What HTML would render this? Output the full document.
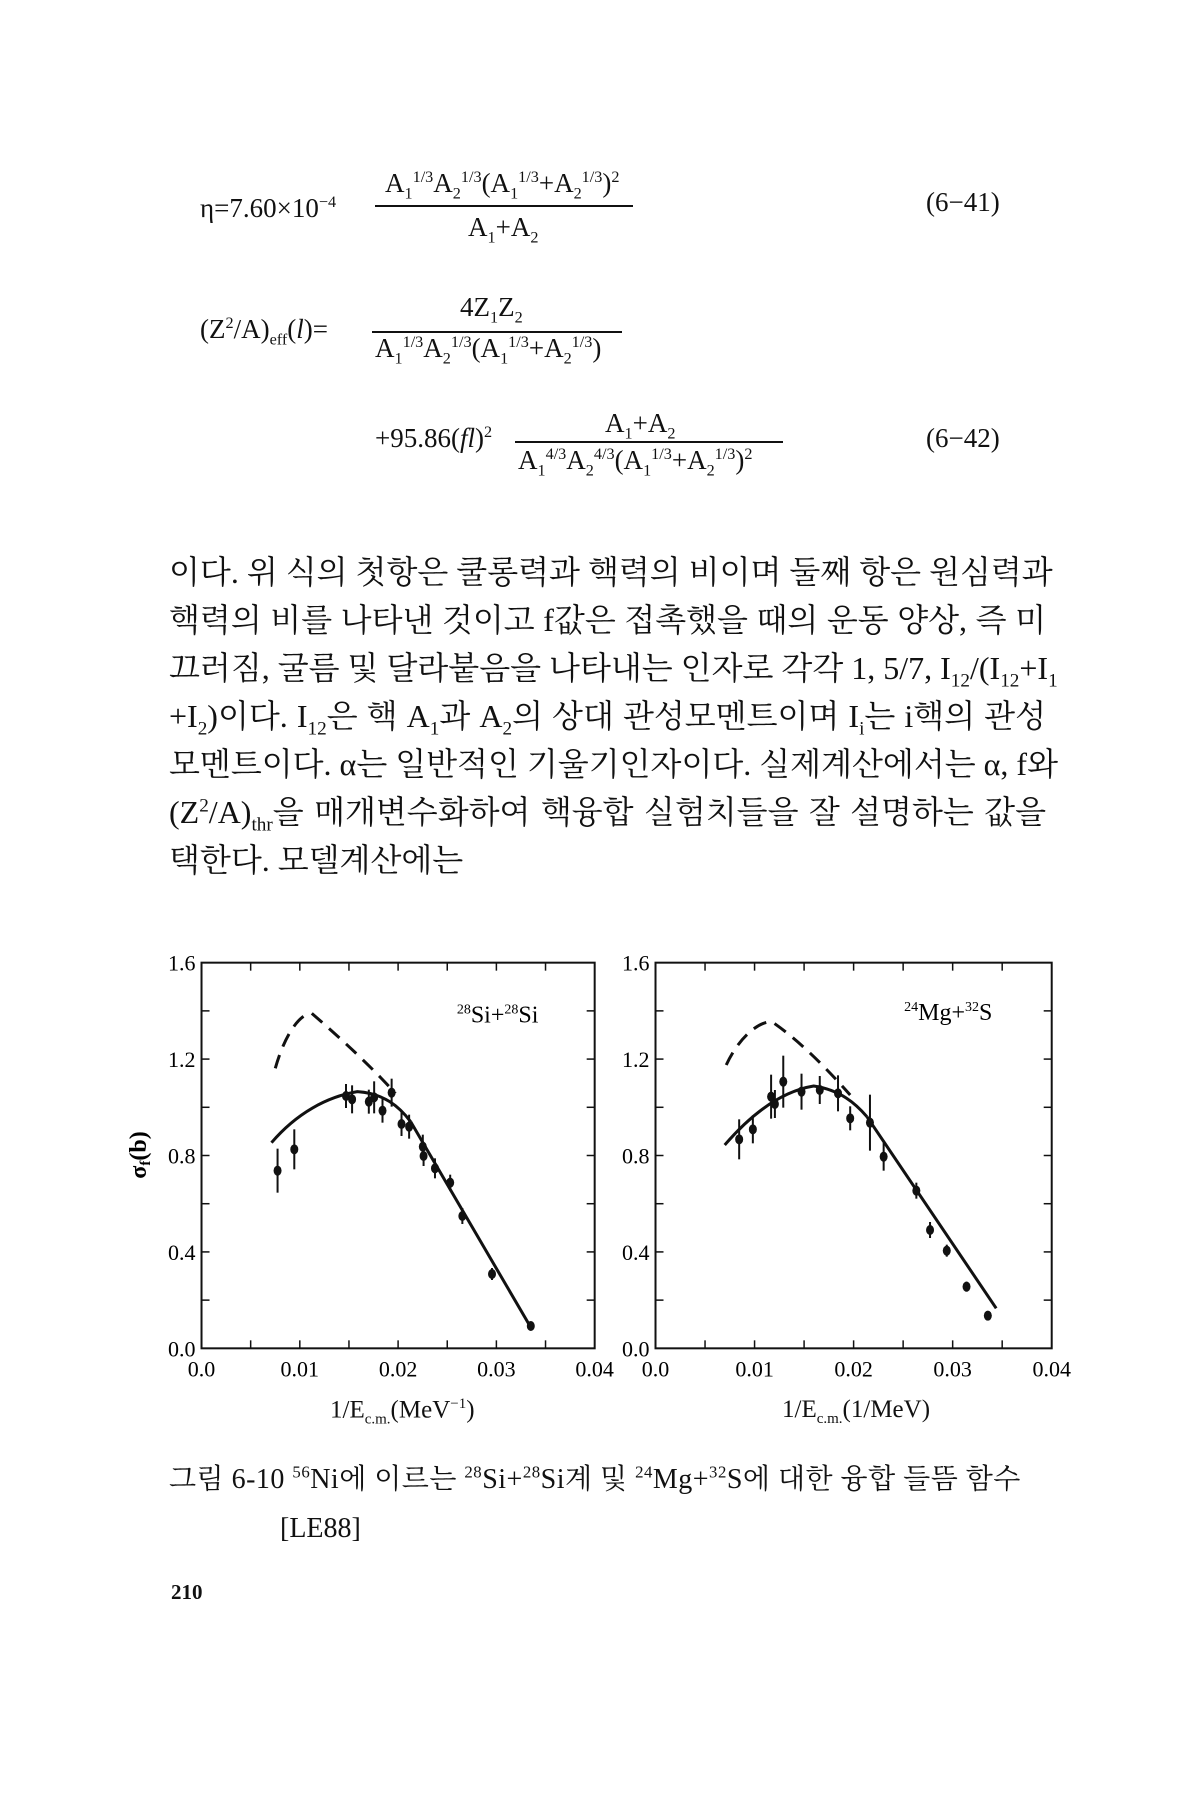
<!DOCTYPE html>
<html><head><meta charset="utf-8"><style>
body{margin:0;background:#fff;width:1200px;height:1800px;overflow:hidden;position:relative;font-family:"Liberation Serif","Noto Serif CJK SC","Noto Sans CJK KR",serif;color:#111}
.a{position:absolute;white-space:nowrap}
.p{position:absolute;left:169px;width:877px;font-size:32px;text-align:justify;text-align-last:justify;white-space:nowrap;font-family:"Liberation Serif","Noto Serif CJK SC","NanumGothic",serif}
sup,sub{font-size:60%}
.eq{font-size:27px}
</style></head><body>
<div class="a eq" style="left:200px;top:193px">η=7.60×10<sup>−4</sup></div>
<div class="a eq" style="left:385px;top:168px">A<sub>1</sub><sup>1/3</sup>A<sub>2</sub><sup>1/3</sup>(A<sub>1</sub><sup>1/3</sup>+A<sub>2</sub><sup>1/3</sup>)<sup>2</sup></div>
<div class="a" style="left:375px;top:205px;width:258px;border-top:2px solid #111"></div>
<div class="a eq" style="left:468px;top:212px">A<sub>1</sub>+A<sub>2</sub></div>
<div class="a eq" style="left:926px;top:187px">(6−41)</div>

<div class="a eq" style="left:200px;top:314px">(Z<sup>2</sup>/A)<sub>eff</sub>(<i>l</i>)=</div>
<div class="a eq" style="left:460px;top:292px">4Z<sub>1</sub>Z<sub>2</sub></div>
<div class="a" style="left:372px;top:331px;width:250px;border-top:2px solid #111"></div>
<div class="a eq" style="left:375px;top:333px">A<sub>1</sub><sup>1/3</sup>A<sub>2</sub><sup>1/3</sup>(A<sub>1</sub><sup>1/3</sup>+A<sub>2</sub><sup>1/3</sup>)</div>

<div class="a eq" style="left:375px;top:423px">+95.86(<i>fl</i>)<sup>2</sup></div>
<div class="a eq" style="left:605px;top:408px">A<sub>1</sub>+A<sub>2</sub></div>
<div class="a" style="left:515px;top:441px;width:268px;border-top:2px solid #111"></div>
<div class="a eq" style="left:518px;top:445px">A<sub>1</sub><sup>4/3</sup>A<sub>2</sub><sup>4/3</sup>(A<sub>1</sub><sup>1/3</sup>+A<sub>2</sub><sup>1/3</sup>)<sup>2</sup></div>
<div class="a eq" style="left:926px;top:423px">(6−42)</div>

<div class="p" style="top:547px">이다. 위 식의 첫항은 쿨롱력과 핵력의 비이며 둘째 항은 원심력과</div>
<div class="p" style="top:595px">핵력의 비를 나타낸 것이고 f값은 접촉했을 때의 운동 양상, 즉 미</div>
<div class="p" style="top:643px">끄러짐, 굴름 및 달라붙음을 나타내는 인자로 각각 1, 5/7, I<sub>12</sub>/(I<sub>12</sub>+I<sub>1</sub></div>
<div class="p" style="top:691px">+I<sub>2</sub>)이다. I<sub>12</sub>은 핵 A<sub>1</sub>과 A<sub>2</sub>의 상대 관성모멘트이며 I<sub>i</sub>는 i핵의 관성</div>
<div class="p" style="top:739px">모멘트이다. α는 일반적인 기울기인자이다. 실제계산에서는 α, f와</div>
<div class="p" style="top:787px">(Z<sup>2</sup>/A)<sub>thr</sub>을 매개변수화하여 핵융합 실험치들을 잘 설명하는 값을</div>
<div class="a" style="left:169px;top:835px;font-size:32px;font-family:'Liberation Serif','Noto Serif CJK SC','NanumGothic',serif">택한다. 모델계산에는</div>

<svg id="s" class="a" style="left:0;top:0" width="1200" height="1800" font-family="Liberation Serif,serif"></svg>

<div class="a" style="left:330px;top:1396px;font-size:25px">1/E<sub>c.m.</sub>(MeV<sup>−1</sup>)</div>
<div class="a" style="left:782px;top:1396px;font-size:25px">1/E<sub>c.m.</sub>(1/MeV)</div>
<div class="a" style="left:169px;top:1457px;font-size:28px;font-family:'Liberation Serif','Noto Serif CJK SC','NanumGothic',serif;letter-spacing:0.5px">그림 6-10 <sup>56</sup>Ni에 이르는 <sup>28</sup>Si+<sup>28</sup>Si계 및 <sup>24</sup>Mg+<sup>32</sup>S에 대한 융합 들뜸 함수</div>
<div class="a" style="left:280px;top:1513px;font-size:28px">[LE88]</div>
<div class="a" style="left:171px;top:1580px;font-size:21px;font-weight:bold">210</div>

<script>
var s=document.getElementById('s'),h='';
function X(zx){return zx/1.315} function Y(zy){return 900+zy/3}
function frame(x0,x1,z0){
 var L=X(x0),R=X(x1),T=Y(188),B=Y(1345);
 h+='<rect x="'+L+'" y="'+T+'" width="'+(R-L)+'" height="'+(B-T)+'" fill="none" stroke="#111" stroke-width="2"/>';
 for(var i=1;i<8;i++){var x=L+(R-L)*i/8;h+='<line x1="'+x+'" y1="'+T+'" x2="'+x+'" y2="'+(T+8)+'" stroke="#111" stroke-width="1.5"/><line x1="'+x+'" y1="'+B+'" x2="'+x+'" y2="'+(B-8)+'" stroke="#111" stroke-width="1.5"/>';}
 for(var i=1;i<8;i++){var y=B-(B-T)*i/8;h+='<line x1="'+L+'" y1="'+y+'" x2="'+(L+8)+'" y2="'+y+'" stroke="#111" stroke-width="1.5"/><line x1="'+R+'" y1="'+y+'" x2="'+(R-8)+'" y2="'+y+'" stroke="#111" stroke-width="1.5"/>';}
 var yl=['0.0','0.4','0.8','1.2','1.6'];
 for(var i=0;i<5;i++){var y=B-(B-T)*i/4;h+='<text x="'+(L-6)+'" y="'+(y+8)+'" font-size="22" text-anchor="end">'+yl[i]+'</text>';}
 var xl=['0.0','0.01','0.02','0.03','0.04'];
 for(var i=0;i<5;i++){var x=L+(R-L)*i/4;h+='<text x="'+x+'" y="'+(B+28)+'" font-size="22" text-anchor="middle">'+xl[i]+'</text>';}
}
function pts(a,e){a.forEach(function(p,i){var x=X(p[0]),y=Y(p[1]),d=(e&&e[i])||16;
 h+='<line x1="'+x+'" y1="'+(y-d)+'" x2="'+x+'" y2="'+(y+d)+'" stroke="#111" stroke-width="2"/><ellipse cx="'+x+'" cy="'+y+'" rx="4" ry="5" fill="#111"/>';});}
function path(d,dash){var o='';d.forEach(function(p,i){o+=(i?(i==1?' C':' '):'M')+X(p[0])+','+Y(p[1]);});
 h+='<path d="'+o+'" fill="none" stroke="#111" stroke-width="3"'+(dash?' stroke-dasharray="14,9"':'')+'/>';}
frame(265,782);frame(862,1383);
path([[357,728],[390,640],[430,590],[470,575],[505,580],[525,620],[540,665]]);
h+='<line x1="'+X(540)+'" y1="'+Y(665)+'" x2="'+X(700)+'" y2="'+Y(1290)+'" stroke="#111" stroke-width="3"/>';
path([[362,505],[375,400],[395,340],[410,340],[440,400],[480,480],[520,580]],1);
pts([[365,812],[387,748],[455,588],[463,598],[485,605],[492,592],[503,632],[515,578],[528,672],[538,680],[556,740],[557,768],[572,805],[592,848],[608,948],[647,1122],[698,1278]],[22,20,12,14,12,16,12,14,12,12,12,10,10,8,8,6,4]);
path([[953,735],[985,650],[1025,575],[1070,558],[1105,570],[1125,610],[1140,650]]);
h+='<line x1="'+X(1140)+'" y1="'+Y(650)+'" x2="'+X(1310)+'" y2="'+Y(1225)+'" stroke="#111" stroke-width="3"/>';
path([[955,495],[970,420],[995,365],[1015,365],[1050,420],[1085,500],[1118,585]],1);
pts([[972,718],[990,688],[1014,590],[1019,612],[1030,545],[1054,575],[1078,570],[1102,580],[1118,655],[1144,668],[1162,770],[1205,872],[1223,990],[1245,1052],[1271,1160],[1299,1247]],[20,14,22,14,26,18,14,18,12,28,14,8,8,6,5,4]);
h+='<text x="'+X(708)+'" y="'+Y(368)+'" font-size="24" text-anchor="end"><tspan font-size="14" dy="-9">28</tspan><tspan dy="9">Si+</tspan><tspan font-size="14" dy="-9">28</tspan><tspan dy="9">Si</tspan></text>';
h+='<text x="'+X(1305)+'" y="'+Y(360)+'" font-size="24" text-anchor="end"><tspan font-size="14" dy="-9">24</tspan><tspan dy="9">Mg+</tspan><tspan font-size="14" dy="-9">32</tspan><tspan dy="9">S</tspan></text>';
h+='<text transform="translate(146,1155) rotate(-90)" font-size="24" font-weight="bold" text-anchor="middle">σ<tspan font-size="15" dy="4">f</tspan><tspan dy="-4">(b)</tspan></text>';
s.innerHTML=h;
</script>
</body></html>
